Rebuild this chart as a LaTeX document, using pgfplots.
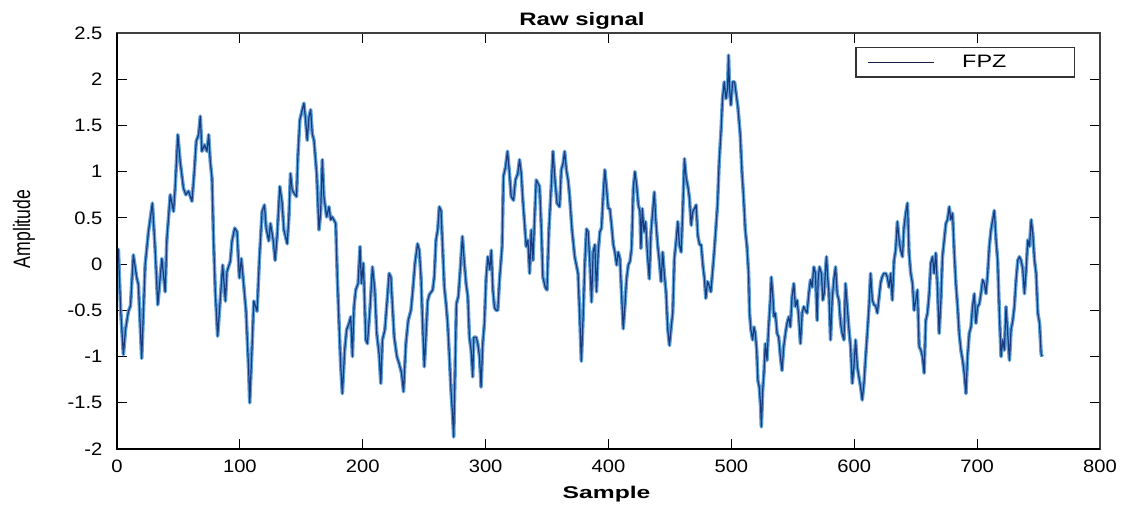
\documentclass[border=0pt]{standalone}
\usepackage{fontspec}
\setmainfont{Liberation Sans}
\usepackage{graphicx}
\usepackage{pgfplots}
\usepackage{pgfplotstable}
\pgfplotsset{compat=1.18}

\definecolor{sigdark}{RGB}{26,58,128}
\definecolor{siglight}{RGB}{96,162,216}
\definecolor{legline}{RGB}{20,30,70}

% FPZ channel, sample index vs amplitude
\pgfplotstableread{
s v
0 0.00
1.1 0.16
3 -0.50
5.2 -0.98
7 -0.70
9.3 -0.51
11 -0.45
13.3 0.10
16.1 -0.15
17.4 -0.22
20.1 -1.02
22.9 -0.01
25.6 0.35
28.8 0.66
31 0.17
33.2 -0.44
36.5 0.06
39.2 -0.30
40.5 0.25
43.3 0.75
46 0.57
47.3 0.82
49.5 1.40
51.4 1.11
54.1 0.82
56 0.75
58.2 0.79
61 0.68
62.9 1.00
64.5 1.33
66.4 1.40
67.8 1.60
69.1 1.22
71.3 1.29
73.2 1.22
74.6 1.40
75.9 1.11
77.3 0.93
78.6 0.25
80 -0.30
81.9 -0.78
84.1 -0.37
86 -0.01
88.2 -0.40
89.5 -0.08
92.2 0.03
93.6 0.25
95.8 0.39
97.7 0.35
99.6 -0.15
101.2 0.06
103.1 -0.22
105 -0.51
107.2 -1.16
108 -1.50
110 -0.87
111.3 -0.40
114 -0.51
115.9 0.06
118.1 0.57
120 0.64
121.4 0.39
123.5 0.25
124.9 0.44
127.1 0.26
128.7 0.04
130.3 0.30
132.5 0.84
134.4 0.66
135.8 0.37
137.1 0.30
138.5 0.22
139.9 0.51
141.2 0.98
142.6 0.80
144.5 0.76
146.1 0.73
147.2 1.16
148.8 1.56
150.8 1.67
152.1 1.74
153.5 1.56
154.8 1.34
156.2 1.59
157.6 1.67
158.9 1.41
160.3 1.34
162.5 0.98
164.4 0.37
165.7 0.55
167.1 1.13
168.4 0.73
170.6 0.51
172.5 0.62
173.9 0.48
175.2 0.51
178 0.44
179.3 -0.14
180.7 -0.64
182 -1.08
183.4 -1.40
185.3 -0.93
186.9 -0.71
188.8 -0.64
190.2 -0.57
191.6 -1.00
192.9 -0.46
194.3 -0.28
196.2 -0.21
197.8 0.19
198.9 -0.21
200.5 0.01
202.5 -0.82
203.8 -0.86
206 -0.46
207.9 -0.03
209.8 -0.28
211.4 -0.75
213.3 -0.97
214.7 -1.29
216 -0.82
218 -0.71
220.1 -0.35
221.5 -0.10
222.9 -0.14
224.2 -0.46
225.6 -0.79
227.8 -1.00
229.7 -1.08
231.6 -1.18
233.2 -1.38
235.1 -0.86
237 -0.61
239.2 -0.50
240.5 -0.32
242.5 0.01
244.6 0.22
246 0.15
247.4 -0.14
248.7 -0.64
250.1 -1.11
251.4 -0.79
252.8 -0.40
254.2 -0.33
256.9 -0.28
258.2 -0.14
259.6 0.26
261 0.37
262.3 0.62
263.7 0.58
265.1 0.15
266.4 -0.25
267.8 -0.43
269.1 -0.64
270.5 -1.00
271.8 -1.36
273.2 -1.65
274 -1.87
275.1 -1.18
276.2 -0.43
277.8 -0.35
279.5 -0.03
281.1 0.30
282.7 0.01
284.1 -0.21
285.5 -0.35
286.8 -0.79
288.2 -0.93
289.5 -1.22
290.4 -0.79
292.3 -0.79
293.6 -0.86
295 -1.00
296.3 -1.33
297.7 -0.85
299 -0.64
300.4 -0.15
301.8 0.08
303.4 -0.06
304.6 0.15
305.9 -0.28
307.2 -0.47
308.6 -0.50
309.9 -0.50
311.3 -0.17
313.4 0.19
314.5 0.95
316.2 1.05
317.8 1.22
319.4 0.98
320.8 0.73
322.7 0.69
324.3 0.91
326.2 0.98
327.6 1.13
329 0.98
330.3 0.69
331.7 0.44
333 0.19
334.4 0.26
335.8 -0.10
337.1 0.37
338.5 0.04
339.8 0.48
341.2 0.91
343.9 0.84
345.3 0.40
346.6 -0.14
348.5 -0.25
349.9 -0.28
351.5 0.37
353.4 0.84
354.8 1.22
356.2 0.95
358.1 0.66
360.2 0.62
361.6 1.02
363 1.09
364.3 1.22
365.7 1.02
367.1 0.91
368.4 0.73
370.3 0.37
372.5 0.08
375.2 -0.10
376.6 -0.57
377.9 -1.05
379.4 -0.55
380.7 0.00
382.1 0.38
383.4 0.35
384.8 0.03
386.2 -0.41
387.5 0.13
388.9 0.21
390.2 -0.30
391.6 0.13
393 0.35
394.3 0.39
395.7 0.75
397 1.02
398.4 0.82
399.8 0.60
401.1 0.60
402.5 0.42
403.9 0.21
405.2 0.13
406.6 -0.01
407.9 0.13
409.3 0.06
410.7 -0.34
412 -0.70
413.4 -0.44
414.7 -0.16
416.1 -0.01
417.5 0.03
418.8 0.17
420.2 0.82
421.5 1.00
422.9 0.85
424.3 0.64
425.6 0.57
426.4 0.17
427.5 0.60
428.9 0.35
430.2 0.46
431.6 0.13
433.2 -0.16
434.6 0.35
436 0.57
437.3 0.78
438.4 0.49
440 0.21
441.4 0.03
442.8 -0.19
444.1 0.13
445.5 -0.12
446.8 -0.30
448.2 -0.70
449.6 -0.88
450.9 -0.70
452.3 -0.52
453.6 0.06
455 0.24
456.4 0.46
457.7 0.21
459.1 0.13
460.4 0.57
461.8 1.14
463.2 0.93
464.5 0.85
465.9 0.71
467.3 0.42
468.6 0.57
470 0.60
471.3 0.64
472.7 0.31
474.1 0.21
475.4 0.21
476.8 -0.01
478.1 -0.16
479.2 -0.37
480.6 -0.19
481.9 -0.23
483.3 -0.30
484.7 -0.08
486 0.13
487.4 0.39
488.7 0.64
490.1 1.11
491.7 1.47
492.8 1.79
494.2 1.97
495.6 1.79
496.9 1.90
497.7 2.26
498.5 1.90
499.6 1.72
501 1.97
502.6 1.97
504 1.83
505.3 1.70
507.2 1.40
508.6 1.00
509.9 0.73
511.3 0.37
512.7 0.19
514 -0.10
514.8 -0.53
515.9 -0.71
517.3 -0.82
518.4 -0.68
519.5 -0.75
520.6 -0.93
521.6 -1.26
522.7 -1.33
523.8 -1.54
524.4 -1.76
525.5 -1.36
526.5 -1.18
527.6 -0.86
529 -1.04
530.3 -0.68
531.7 -0.39
532.5 -0.14
533.6 -0.32
534.7 -0.57
535.8 -0.53
537.2 -0.75
538.5 -0.79
539.9 -1.00
541.2 -1.15
542.6 -0.89
544 -0.75
545.3 -0.64
546.7 -0.57
548 -0.68
549.4 -0.35
550.8 -0.21
552.1 -0.46
553.5 -0.39
554.8 -0.57
556.2 -0.86
557.6 -0.53
558.9 -0.46
560.3 -0.50
561.6 -0.53
563 -0.32
564.4 -0.17
565.7 -0.25
567.1 -0.03
568.4 -0.10
569.8 -0.61
570.6 -0.17
571.7 -0.03
573.3 -0.10
574.4 -0.39
575.5 -0.32
576.6 -0.06
577.4 0.08
578.5 -0.17
579.3 -0.28
580.7 -0.82
582 -0.39
583.4 -0.17
584.8 -0.03
586.1 -0.32
587.5 -0.39
588.9 -0.64
590.2 -0.75
591.6 -0.82
592.9 -0.21
594.3 -0.46
595.7 -0.71
597 -0.89
598.4 -1.29
599.7 -1.11
601.1 -0.82
602.5 -1.11
603.8 -1.22
605.2 -1.33
606.5 -1.47
607.9 -1.29
609.3 -1.00
610.6 -0.75
612 -0.46
613.3 -0.10
614.7 -0.39
616.1 -0.44
617.4 -0.45
618.8 -0.53
620.1 -0.37
621.5 -0.20
622.9 -0.13
624.2 -0.10
625.6 -0.10
626.9 -0.14
628.3 -0.25
629.7 -0.10
631 -0.39
632.4 0.04
633.7 0.15
635.1 0.46
636.5 0.26
637.8 0.15
639.2 0.08
640.5 0.40
641.9 0.55
643.3 0.66
644.6 0.12
646 -0.10
647.4 -0.21
648.7 -0.50
650.1 -0.39
651.4 -0.28
652.8 -0.89
654.2 -0.93
655.5 -1.00
656.9 -1.18
658.2 -0.61
659.6 -0.53
661 -0.32
662.3 0.01
663.7 0.08
665 -0.10
666.4 0.12
667.8 -0.28
669.1 -0.75
670.5 -0.39
671.8 0.08
673.2 0.26
674.6 0.44
675.9 0.48
677.3 0.62
678.6 0.48
680 0.55
681.4 0.12
682.7 -0.21
684.1 -0.46
685.4 -0.75
686.8 -0.93
688.2 -1.04
689.5 -1.18
690.9 -1.40
692.2 -1.00
693.6 -0.75
695 -0.68
696.3 -0.46
697.7 -0.32
699 -0.64
700.4 -0.46
701.8 -0.43
703.1 -0.32
704.5 -0.17
705.9 -0.21
707.2 -0.32
708.6 -0.10
709.9 0.19
711.3 0.37
712.7 0.48
714 0.58
715.4 0.26
716.7 0.04
718.1 -0.53
719.5 -1.00
720.8 -0.82
722.2 -0.93
723.5 -0.46
724.9 -0.75
726.3 -1.04
727.6 -0.71
729 -0.61
730.3 -0.46
731.7 -0.17
733.1 0.04
734.4 0.08
735.8 0.04
737.2 -0.06
738.5 -0.32
739.9 -0.06
741.2 0.26
742.6 0.19
744 0.48
745.3 0.33
746.7 0.04
748 -0.10
749.4 -0.53
750.8 -0.64
752.1 -0.97
752.9 -1.00
}\sigdata

\begin{document}
\begin{tikzpicture}
\begin{axis}[
  name=ax,
  scale only axis,
  width=491.5pt, height=208pt,
  xmin=0, xmax=800, ymin=-2, ymax=2.5,
  xtick={0,100,200,300,400,500,600,700,800},
  ytick={-2,-1.5,-1,-0.5,0,0.5,1,1.5,2,2.5},
  /pgf/number format/assume math mode=true,
  tick label style={font=\fontsize{9}{10}\selectfont, xscale=1.12},
  yticklabel style={xshift=-3pt},
  xticklabel style={yshift=-2pt},
  major tick length=5pt,
  tick style={black, line width=0.6pt},
  axis line style={draw=black!75, line width=0.6pt},
  every axis title shift=0pt,
  title={\scalebox{1.33}[1]{\bfseries Raw signal}},
  title style={at={(axis description cs:0.473,1)}, anchor=base, yshift=3.8pt,
    inner sep=0pt, font=\fontsize{9}{10}\selectfont},
  xlabel={\scalebox{1.45}[1]{\bfseries Sample}},
  xlabel style={at={(axis description cs:0.498,0)}, anchor=base, yshift=-24.5pt,
    inner sep=0pt, font=\fontsize{8.5}{10}\selectfont},
  ylabel={\scalebox{1}[1.35]{Amplitude}},
  ylabel style={at={(axis description cs:0,0.529)}, anchor=center, rotate=0,
    yshift=46.5pt, inner sep=0pt, font=\fontsize{8.8}{10}\selectfont},
  legend style={at={(axis description cs:0.9746,0.9663)}, anchor=north east,
    draw=black!80, line width=0.6pt, inner xsep=5.5pt, inner ysep=1pt,
    font=\fontsize{9}{10}\selectfont,
    nodes={inner xsep=0pt, inner ysep=2.5pt}},
  legend image code/.code={\draw[#1] (0pt,0pt) -- (33pt,0pt);},
]
% legend sample for the FPZ trace
\addlegendimage{legline, line width=0.6pt}
\addlegendentry{\hspace*{14pt}\scalebox{1.3}[1]{FPZ}\hspace*{28.5pt}}
\addplot[sigdark, line width=0.6pt, line join=round, forget plot,
  preaction={draw, siglight, line width=1.8pt, line join=round}]
  table[x=s, y=v] {\sigdata};
\end{axis}
% heavier left and bottom spines
\draw[black, line width=1.4pt] (ax.north west) -- (ax.south west) -- (ax.south east);
% page margins around the axis box
\path (ax.south west) ++(-58.5pt,-29.5pt) coordinate (bbA);
\path (ax.north east) ++(13.5pt,16.5pt) coordinate (bbB);
\path (bbA) rectangle (bbB);
\end{tikzpicture}
\end{document}
